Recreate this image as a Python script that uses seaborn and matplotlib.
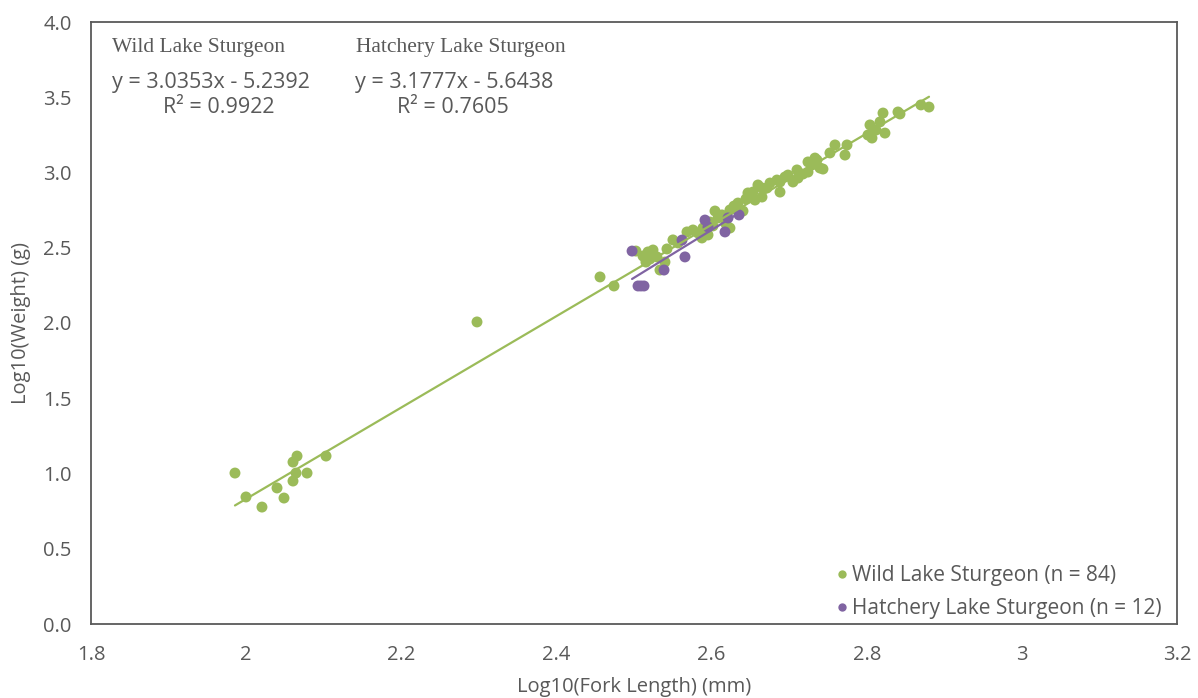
import numpy as np
import pandas as pd
import matplotlib
matplotlib.use("Agg")
import matplotlib.pyplot as plt
from matplotlib.lines import Line2D
import seaborn as sns

# ---------------- data ----------------
wild_x = [1.9856, 1.9998, 2.0204, 2.0398, 2.0488, 2.0604, 2.0643, 2.0604, 2.0656, 2.0785,
          2.1030, 2.2976, 2.4562, 2.4742,
          2.5025, 2.5116, 2.5154, 2.5206, 2.5245, 2.5296, 2.5180, 2.5335, 2.5425, 2.5502,
          2.5567, 2.5683, 2.5760, 2.5825, 2.5889, 2.5954, 2.5979, 2.6018, 2.6044, 2.6083,
          2.6134, 2.6186, 2.6237, 2.6237, 2.6289, 2.6340, 2.6405, 2.6443, 2.6469, 2.6495,
          2.6534, 2.6560, 2.6598, 2.6650, 2.6714, 2.6753, 2.6843, 2.6882, 2.6882, 2.6946,
          2.6985, 2.7049, 2.7101, 2.7114, 2.7178, 2.7243, 2.7243, 2.7333, 2.7359, 2.7397,
          2.7436, 2.7526, 2.7591, 2.7720, 2.7746, 2.7294, 2.8016, 2.8042, 2.8068, 2.8119,
          2.8171, 2.8210, 2.8235, 2.8403, 2.8429, 2.8699, 2.8803, 2.6650, 2.5876, 2.5399]
wild_y = [1.003, 0.844, 0.777, 0.904, 0.837, 0.950, 1.003, 1.076, 1.116, 1.003,
          1.116, 2.007, 2.306, 2.246,
          2.478, 2.445, 2.405, 2.425, 2.485, 2.439, 2.472, 2.352, 2.492, 2.552,
          2.532, 2.605, 2.618, 2.598, 2.631, 2.585, 2.671, 2.645, 2.744, 2.698,
          2.718, 2.658, 2.751, 2.631, 2.777, 2.797, 2.744, 2.824, 2.864, 2.837,
          2.870, 2.817, 2.917, 2.897, 2.897, 2.930, 2.950, 2.937, 2.870, 2.970,
          2.983, 2.937, 3.017, 2.963, 2.990, 3.070, 3.003, 3.096, 3.083, 3.030,
          3.023, 3.130, 3.183, 3.116, 3.183, 3.050, 3.249, 3.316, 3.229, 3.282,
          3.336, 3.395, 3.262, 3.402, 3.389, 3.449, 3.435, 2.837, 2.565, 2.405]

hatch_x = [2.4975, 2.5052, 2.5129, 2.5387, 2.5619, 2.5657, 2.5915, 2.5954, 2.6173,
           2.6212, 2.6354, 2.5090]
hatch_y = [2.478, 2.246, 2.246, 2.352, 2.551, 2.439, 2.684, 2.638, 2.605,
           2.698, 2.718, 2.246]

wild_label = "Wild Lake Sturgeon (n = 84)"
hatch_label = "Hatchery Lake Sturgeon (n = 12)"
wild_slope, wild_icpt, wild_r2 = 3.0353, -5.2392, 0.9922
hatch_slope, hatch_icpt, hatch_r2 = 3.1777, -5.6438, 0.7605

x_ticks = [1.8, 2.0, 2.2, 2.4, 2.6, 2.8, 3.0, 3.2]
x_tick_labels = ["1.8", "2", "2.2", "2.4", "2.6", "2.8", "3", "3.2"]
y_ticks = [0.0, 0.5, 1.0, 1.5, 2.0, 2.5, 3.0, 3.5, 4.0]
y_tick_labels = ["0.0", "0.5", "1.0", "1.5", "2.0", "2.5", "3.0", "3.5", "4.0"]

# ---------------- style ----------------
sns.set_style("white")
plt.rcParams['font.family'] = ['Open Sans', 'DejaVu Sans']

GREEN = "#9BBB59"
PURPLE = "#8064A2"
GREY = "#595959"

df = pd.DataFrame({
    "x": wild_x + hatch_x,
    "y": wild_y + hatch_y,
    "group": [wild_label] * len(wild_x) + [hatch_label] * len(hatch_x),
})

fig = plt.figure(figsize=(11.98, 6.98), dpi=100)
ax = fig.add_axes([91 / 1198, 1 - 624 / 698, (1177 - 91) / 1198, (624 - 22) / 698])

sns.scatterplot(data=df, x="x", y="y", hue="group",
                palette={wild_label: GREEN, hatch_label: PURPLE},
                s=62, edgecolor="none", linewidth=0, legend=False, ax=ax, zorder=3)

# trend lines from the regression equations
wx = np.array([min(wild_x), max(wild_x)])
hx = np.array([min(hatch_x), max(hatch_x)])
ax.plot(wx, wild_slope * wx + wild_icpt, color=GREEN, lw=1.6, zorder=4)
ax.plot(hx, hatch_slope * hx + hatch_icpt, color=PURPLE, lw=1.6, zorder=4)

ax.set_xlim(1.8, 3.2)
ax.set_ylim(0.0, 4.0)
ax.set_xticks(x_ticks)
ax.set_xticklabels(x_tick_labels)
ax.set_yticks(y_ticks)
ax.set_yticklabels(y_tick_labels)
ax.tick_params(axis="both", length=0, labelsize=14.5, colors=GREY)
ax.tick_params(axis="x", pad=15)
ax.tick_params(axis="y", pad=14)
ax.set_xlabel("Log10(Fork Length) (mm)", fontsize=14.5, color=GREY, labelpad=9)
ax.set_ylabel("Log10(Weight) (g)", fontsize=14.5, color=GREY, labelpad=9)
for sp in ax.spines.values():
    sp.set_color(GREY)
    sp.set_linewidth(1.3)

# annotations
serif = ['Liberation Serif', 'DejaVu Serif']
ax.text(0.0193, 0.958, "Wild Lake Sturgeon", transform=ax.transAxes, family=serif,
        fontsize=15.5, color=GREY, va="center", ha="left")
ax.text(0.2440, 0.958, "Hatchery Lake Sturgeon", transform=ax.transAxes, family=serif,
        fontsize=15.5, color=GREY, va="center", ha="left")
ax.text(0.0193, 0.900, f"y = {wild_slope:.4f}x - {abs(wild_icpt):.4f}", transform=ax.transAxes,
        fontsize=15.5, color=GREY, va="center", ha="left")
ax.text(0.0660, 0.858, f"R² = {wild_r2:.4f}", transform=ax.transAxes,
        fontsize=15.5, color=GREY, va="center", ha="left")
ax.text(0.2430, 0.900, f"y = {hatch_slope:.4f}x - {abs(hatch_icpt):.4f}", transform=ax.transAxes,
        fontsize=15.5, color=GREY, va="center", ha="left")
ax.text(0.2818, 0.858, f"R² = {hatch_r2:.4f}", transform=ax.transAxes,
        fontsize=15.5, color=GREY, va="center", ha="left")

handles = [Line2D([], [], ls="none", marker="o", ms=6, color=GREEN, mec="none"),
           Line2D([], [], ls="none", marker="o", ms=6, color=PURPLE, mec="none")]
leg = ax.legend(handles, [wild_label, hatch_label], loc="lower right",
                bbox_to_anchor=(1 - 10 / 1086, 0.0), frameon=False,
                fontsize=15, handlelength=0.5, handletextpad=0.25, labelspacing=0.55,
                borderaxespad=0.0, borderpad=0.25)
for t in leg.get_texts():
    t.set_color(GREY)

fig.savefig("out.png", dpi=100)
